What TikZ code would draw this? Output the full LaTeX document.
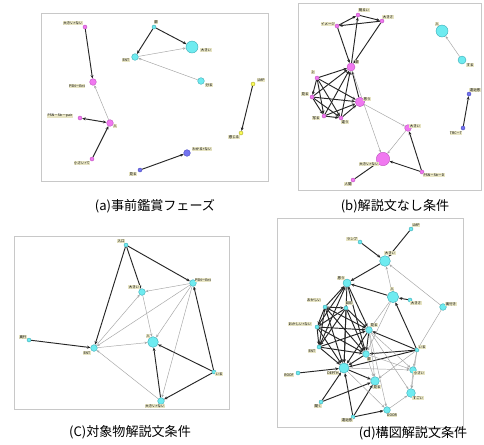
\documentclass[tikz,border=0pt]{standalone}
\usepackage{fontspec}
\newfontfamily\jp{Noto Sans CJK JP}
\usetikzlibrary{arrows.meta,backgrounds}
\definecolor{pinkc}{RGB}{240,120,240}
\definecolor{pinkd}{RGB}{190,80,190}
\definecolor{cyanc}{RGB}{110,235,240}
\definecolor{cyand}{RGB}{60,170,180}
\definecolor{bluec}{RGB}{115,115,240}
\definecolor{blued}{RGB}{70,70,190}
\definecolor{yelc}{RGB}{250,250,90}
\definecolor{yeld}{RGB}{170,170,40}
\definecolor{labc}{RGB}{232,229,196}
\definecolor{framec}{RGB}{200,200,200}
\tikzset{
 v/.style={circle,draw,inner sep=0pt,line width=0.3pt},
 pk/.style={v,fill=pinkc,draw=pinkd},
 cy/.style={v,fill=cyanc,draw=cyand},
 bl/.style={v,fill=bluec,draw=blued},
 yl/.style={v,fill=yelc,draw=yeld},
 lbl/.style={fill=labc,inner sep=0.35pt,font=\jp\fontsize{2.6}{3}\selectfont},
 tk/.style={draw=black!85,line width=0.7pt,-{Stealth[length=2.6pt,width=2.2pt]}},
 tn/.style={draw=black!35,line width=0.35pt,-{Stealth[length=2.2pt,width=1.8pt]}},
 frm/.style={draw=framec,line width=0.6pt},
 captxt/.style={font=\jp\fontsize{9.8}{11}\selectfont,inner sep=0pt}
}
\newcommand\gn[6]{\node[#2,minimum size=#3pt](#1) at (#4){};\node[lbl](#1l) at (#5){#6};}
\begin{document}
\begin{tikzpicture}[x=0.75pt,y=-0.75pt]
\useasboundingbox (0,0) rectangle (484,444);
% ---------- panel a
\gn{aON}{pk}{3}{85,27}{73,23}{大きい+ない}
\gn{aPE}{pk}{5}{93,82}{77,86}{PSN－Ent}
\gn{aPP}{pk}{3}{80,118}{60,116}{PSN－Str－pair}
\gn{aHT}{pk}{5}{110,123}{115,126}{人}
\gn{aCT}{pk}{3}{92,159}{82,163}{小さい+て}
\gn{aTB}{cy}{3}{154,27}{156,22}{扉}
\gn{aENT}{cy}{5}{135,57}{126,60}{ENT}
\gn{aOK}{cy}{9}{192,47}{206,50}{大きい}
\gn{aWK}{cy}{5}{201,81}{209,85}{分る}
\gn{aLMP}{yl}{3}{253,84}{261,80}{LMP}
\gn{aKJ}{yl}{3}{241,133}{234,137}{感じる}
\gn{aWN}{bl}{5}{187,153}{202,149}{わかる+ない}
\gn{aMR}{bl}{3}{140,170}{133,174}{見る}
\node[captxt] (capa) at (155,206) {(a)事前鑑賞フェーズ};
% ---------- panel b
\gn{bAK}{pk}{3}{358,15}{364,10}{明るい}
\gn{bOS}{pk}{3}{382,21}{388,17}{大きさ}
\gn{bIM}{pk}{3}{337,26}{328,24}{イメージ}
\gn{bTB}{pk}{6}{351,67}{357,62}{扉}
\gn{bUE}{pk}{3}{317,78}{313,72}{上}
\gn{bMR}{pk}{3}{312,97}{305,94}{見る}
\gn{bUT}{pk}{3}{324,116}{316,118}{写る}
\gn{bCG}{pk}{3}{341,118}{345,122}{違う}
\gn{bOM}{pk}{7}{360,102}{367,99}{思う}
\gn{bOK}{pk}{5}{408,128}{415,126}{大きい}
\gn{bON}{pk}{10}{383,159}{369,164}{大きい+ない}
\gn{bNG}{pk}{3}{353,180}{348,184}{人間}
\gn{bPD}{pk}{3}{422,172}{434,175}{PSN－Str－D}
\gn{bHT}{cy}{9}{442,31}{437,24}{人}
\gn{bSR}{cy}{6}{462,60}{470,65}{する}
\gn{bEK}{bl}{3}{469,94}{475,90}{遠近感}
\gn{bTR}{bl}{3}{463,128}{456,133}{TRC－T}
\node[captxt] (capb) at (395,206) {(b)解説文なし条件};
% ---------- panel c
\gn{cIR}{cy}{3}{126,245}{121,241}{入口}
\gn{cOK}{cy}{5}{142,292}{134,287}{大きい}
\gn{cPE}{cy}{5}{193,283}{203,280}{PSN－Ent}
\gn{cHT}{cy}{8}{153,342}{148,336}{人}
\gn{cENT}{cy}{5}{94,348}{87,353}{ENT}
\gn{cOY}{cy}{3}{29,340}{23,337}{奥行}
\gn{cIL}{cy}{3}{214,372}{219,374}{いる}
\gn{cON}{cy}{5}{161,401}{155,406}{大きい+ない}
\node[captxt] (capc) at (130,432) {(C)対象物解説文条件};
% ---------- panel d
\gn{dLMP}{cy}{3}{411,229}{416,225}{LMP}
\gn{dRP}{cy}{3}{360,242}{352,239}{ランプ}
\gn{dOK}{cy}{8}{385,261}{390,253}{大きい}
\gn{dOM}{cy}{6}{347,283}{341,278}{思う}
\gn{dHT}{cy}{8.5}{393,297}{392,289}{人}
\gn{dOS}{cy}{3}{410,300}{416,303}{大きさ}
\gn{dOY}{cy}{5}{443,307}{451,304}{奥行き}
\gn{dOC}{cy}{3}{325,307}{314,300}{おかしい}
\gn{dME}{cy}{3}{346,308}{349,303}{目印}
\gn{dON}{cy}{3}{317,327}{300,324}{おかしい+ない}
\gn{dMU}{cy}{5}{369,330}{374,325}{見る}
\gn{dENT}{cy}{3}{319,347}{312,351}{ENT}
\gn{dTB}{cy}{5}{366,354}{369,359}{扉}
\gn{dIR}{cy}{3}{417,350}{422,347}{いる}
\gn{dDP}{cy}{7.5}{344,368}{333,373}{DEPTH}
\gn{dRF}{cy}{3}{298,373}{289,375}{ROOF}
\gn{dCH}{cy}{5}{413,370}{419,373}{小さい}
\gn{dML}{cy}{6.5}{375,381}{377,387}{見る}
\gn{dSG}{cy}{6.5}{411,393}{418,398}{すごい}
\gn{dKK}{cy}{3}{321,402}{318,406}{聞く}
\gn{dDR}{cy}{5}{387,410}{392,415}{DOOR}
\gn{dEK}{cy}{3}{353,417}{347,420}{遠近感}
\node[captxt] (capd) at (413,433) {(d)構図解説文条件};
% ---------- frames and edges
\begin{scope}[on background layer]
\fill[white] (0,0) rectangle (484,444);
\draw[frm] (41,13) rectangle (268,181);
\draw[frm] (298,3) rectangle (481,190);
\draw[frm] (14,236) rectangle (229,409);
\draw[frm] (277,218) rectangle (463,427);
% a
\draw[tk] (aON) -- (aPE);
\draw[tn] (aHT) -- (aPE);
\draw[tk,{Stealth[length=2.6pt,width=2.2pt]}-{Stealth[length=2.6pt,width=2.2pt]}] (aPP) -- (aHT);
\draw[tk] (aCT) -- (aHT);
\draw[tk] (aTB) -- (aOK);
\draw[tk] (aTB) -- (aENT);
\draw[tn] (aENT) -- (aOK);
\draw[tn] (aWK) -- (aENT);
\draw[tk] (aLMP) -- (aKJ);
\draw[tk] (aMR) -- (aWN);
% b
\foreach \s/\t in {bAK/bOS,bOS/bIM,bIM/bAK,bTB/bAK,bOS/bTB,bIM/bTB,
  bUE/bTB,bMR/bTB,bUT/bTB,bCG/bTB,bOM/bTB,
  bUE/bMR,bUE/bUT,bUE/bCG,bUE/bOM,
  bMR/bUT,bMR/bCG,bMR/bOM,
  bUT/bCG,bUT/bOM,bCG/bOM}
  \draw[tk] (\s) -- (\t);
\draw[tn] (bTB) -- (bON);
\draw[tn] (bOM) -- (bOK);
\draw[tn] (bOK) -- (bON);
\draw[tk] (bPD) -- (bOK);
\draw[tk] (bPD) -- (bON);
\draw[tk] (bNG) -- (bON);
\draw[tn] (bSR) -- (bHT);
\draw[tk] (bTR) -- (bEK);
% c
\draw[tk] (cIR) -- (cENT);
\draw[tk] (cIR) -- (cOK);
\draw[tk] (cIR) -- (cPE);
\foreach \t in {cOK,cHT,cENT,cON} \draw[tn] (cPE) -- (\t);
\draw[tk] (cIL) -- (cPE);
\draw[tk] (cIL) -- (cHT);
\draw[tk] (cIL) -- (cON);
\draw[tk] (cON) -- (cHT);
\draw[tn] (cENT) -- (cHT);
\draw[tn] (cENT) -- (cOK);
\draw[tn] (cOK) -- (cHT);
\draw[tn] (cON) -- (cENT);
\draw[tk] (cOY) -- (cENT);
% d
\foreach \s/\t in {dLMP/dOK,dRP/dOK,dOK/dOM,dHT/dOM,dOS/dHT,dIR/dHT,dIR/dMU,dIR/dTB,dIR/dDP,
  dRF/dDP,dKK/dDP,dKK/dML,dEK/dDP,dEK/dDR,dEK/dML,dDP/dML,
  dOC/dOM,dON/dOM,dENT/dOM,dOM/dDP,dOM/dTB,dOM/dMU,
  dOC/dME,dOC/dON,dOC/dENT,dOC/dDP,dOC/dTB,dOC/dMU,
  dME/dON,dME/dENT,dME/dDP,dME/dTB,dME/dMU,
  dON/dENT,dON/dDP,dON/dTB,dON/dMU,
  dENT/dDP,dENT/dTB,dENT/dMU,
  dTB/dDP,dMU/dDP,dMU/dTB}
  \draw[tk] (\s) -- (\t);
\foreach \s/\t in {dHT/dOK,dOY/dOK,dOY/dIR,dHT/dMU,dHT/dTB,dIR/dCH,dIR/dSG,dIR/dML,
  dMU/dCH,dMU/dML,dMU/dSG,dMU/dDR,dTB/dML,dTB/dCH,dDP/dCH,dCH/dSG,dDR/dSG,dDP/dDR}
  \draw[tn] (\s) -- (\t);
\end{scope}
\end{tikzpicture}
\end{document}
